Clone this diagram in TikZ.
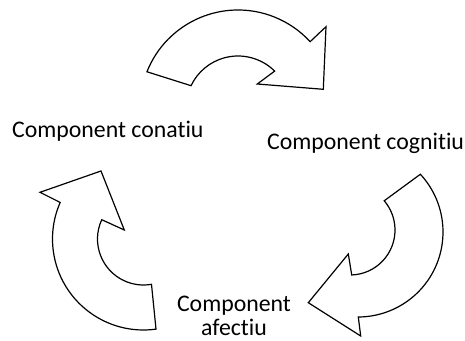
\documentclass[tikz,border=0pt]{standalone}
\usepackage{fontspec}
\setmainfont{Carlito}[Ligatures=NoCommon]
\usetikzlibrary{calc}
\begin{document}
\begin{tikzpicture}[x=1pt,y=1pt,
  arrowshape/.style={draw=black, fill=white, line width=1.2pt, line join=miter},
  lbl/.style={inner sep=0pt, font=\fontsize{23.8}{23.3}\selectfont}]
\useasboundingbox (0,0) rectangle (465,340);
% top arrow
\draw[arrowshape] ($(238,232)+(158.3:98)$) arc[start angle=158.3, end angle=42.6, radius=98]
  -- (326,313.3) -- (323.3,250.7) -- (257.3,256)
  -- ($(238,232)+(45.2:52)$) arc[start angle=45.2, end angle=154.6, radius=52] -- cycle;
% right arrow
\draw[arrowshape] ($(358,108)+(42.8:85)$) arc[start angle=42.8, end angle=-89.8, radius=85]
  -- (360.7,4) -- (308.3,37.3) -- (348.3,86)
  -- ($(350,110)+(-87.8:45)$) arc[start angle=-87.8, end angle=40.5, radius=45] -- cycle;
% left arrow
\draw[arrowshape] ($(143.5,101)+(-82.1:91)$) arc[start angle=-82.1, end angle=-203.7, radius=91]
  -- (40,147.7) -- (101,169) -- (124.3,110)
  -- ($(143.5,101)+(155.2:46)$) arc[start angle=155.2, end angle=280, radius=46] -- cycle;
% labels
\node[lbl, anchor=base west] (conatiu) at (12,202.3) {Component conatiu};
\node[lbl, anchor=base west] (cognitiu) at (267,190) {Component cognitiu};
\node[lbl, anchor=base, align=center] (afectiu) at (234,5) {Component\\afectiu};
\end{tikzpicture}
\end{document}
